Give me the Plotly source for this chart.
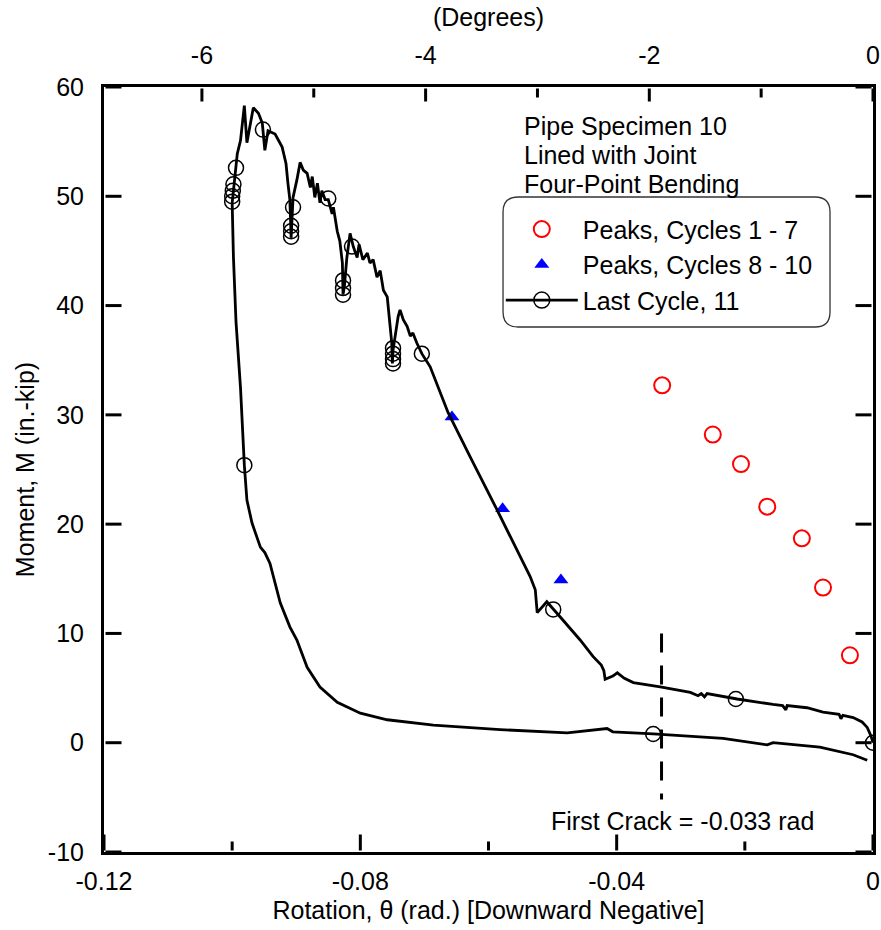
import math
import plotly.graph_objects as go

# ---- data -------------------------------------------------------------
# Last loading cycle (cycle 11): rotation in rad, moment in in.-kip
last_rot = [
    0.0000, -0.0003, -0.0009, -0.0017, -0.0031, -0.0047, -0.0050, -0.0053,
    -0.0078, -0.0103, -0.0134, -0.0136, -0.0141, -0.0156, -0.0212, -0.0259,
    -0.0263, -0.0268, -0.0273, -0.0285, -0.0332, -0.0374, -0.0388, -0.0399,
    -0.0406, -0.0418, -0.0420, -0.0424, -0.0437, -0.0457, -0.0485, -0.0499,
    -0.0509, -0.0524, -0.0527, -0.0535, -0.0559, -0.0590, -0.0629, -0.0663,
    -0.0691, -0.0704, -0.0712, -0.0718, -0.0722, -0.0727,
    -0.0733, -0.0738, -0.0741, -0.0746, -0.0749, -0.0750, -0.0751, -0.0754,
    -0.0758, -0.0764, -0.0769, -0.0774, -0.0780, -0.0785, -0.0789, -0.0796,
    -0.0802, -0.0805, -0.0811, -0.0816, -0.0821, -0.0825, -0.0827, -0.0828,
    -0.0832, -0.0836, -0.0842, -0.0844, -0.0850, -0.0855, -0.0860, -0.0863,
    -0.0867, -0.0871, -0.0875, -0.0878, -0.0883, -0.0889, -0.0894, -0.0899,
    -0.0905, -0.0908, -0.0910, -0.0913, -0.0916, -0.0922, -0.0933, -0.0944,
    -0.0949, -0.0953, -0.0959, -0.0967, -0.0973, -0.0977, -0.0981, -0.0983,
    -0.0987, -0.0992, -0.0995, -0.0998, -0.1000, -0.0998, -0.0994, -0.0987,
    -0.0983, -0.0981, -0.0977, -0.0969, -0.0956, -0.0949, -0.0941, -0.0925,
    -0.0910, -0.0899, -0.0883, -0.0863, -0.0836, -0.0800, -0.0758, -0.0686,
    -0.0582, -0.0477, -0.0415, -0.0406, -0.0343, -0.0234, -0.0165, -0.0156,
    -0.0083, -0.0031, -0.0009,
]
last_mom = [
    0.0, 0.6, 1.4, 1.9, 2.3, 2.5, 2.2, 2.6,
    2.8, 3.2, 3.4, 3.0, 3.4, 3.5, 4.0, 4.5,
    4.2, 4.5, 4.3, 4.6, 5.1, 5.5, 5.9, 6.4,
    6.1, 5.8, 6.6, 7.1, 7.9, 9.4, 11.3, 12.2,
    12.9, 11.9, 14.0, 15.2, 18.1, 21.7, 26.2, 30.2,
    34.4, 35.6, 36.6, 37.5, 37.2, 38.1,
    38.7, 39.6, 39.0, 37.2, 35.9, 34.7, 36.6, 38.4,
    40.8, 41.4, 43.2, 42.6, 44.2, 43.9, 44.8, 44.2,
    45.6, 44.4, 45.4, 46.6, 44.4, 41.7, 41.0, 43.9,
    45.9, 46.8, 49.0, 48.4, 49.7, 49.7, 50.5, 49.4,
    51.2, 49.9, 51.8, 50.8, 52.1, 52.4, 53.1, 51.5,
    49.9, 46.2, 49.7, 51.2, 53.0, 54.5, 55.7, 56.0,
    54.2, 56.7, 57.6, 58.1, 56.3, 54.9, 58.3, 57.0,
    55.1, 53.9, 52.4, 50.5, 49.4, 44.4, 38.5, 32.5,
    27.6, 25.4, 22.2, 20.1, 17.9, 17.4, 16.4, 12.8,
    10.6, 9.4, 6.9, 5.1, 3.7, 2.7, 2.1, 1.6,
    1.2, 0.9, 1.3, 1.0, 0.8, 0.4, -0.2, 0.0,
    -0.4, -1.1, -1.6,
]

# Recorded readings marked along the last cycle
last_mark_rot = [
    0.0000, -0.0214, -0.0343, -0.0499, -0.0704,
    -0.0749, -0.0749, -0.0749, -0.0749,
    -0.0813, -0.0827, -0.0827, -0.0827, -0.0850,
    -0.0905, -0.0908, -0.0908, -0.0908, -0.0952,
    -0.0994, -0.0998, -0.0999, -0.1000, -0.1000, -0.0981,
]
last_mark_mom = [
    0.0, 4.0, 0.8, 12.2, 35.6,
    36.1, 35.6, 35.1, 34.7,
    45.4, 42.3, 41.6, 41.0, 49.8,
    49.0, 47.3, 46.8, 46.3, 56.1,
    52.6, 51.1, 50.5, 50.0, 49.5, 25.4,
]

# Peak moments of cycles 1-7
peak17_rot = [-0.0329, -0.0250, -0.0206, -0.0165, -0.0111, -0.0078, -0.0036]
peak17_mom = [32.7, 28.2, 25.5, 21.6, 18.7, 14.2, 8.0]

# Peak moments of cycles 8-10
peak810_rot = [-0.0657, -0.0578, -0.0487]
peak810_mom = [29.8, 21.4, 14.9]

# First crack marker
first_crack_rot = -0.033
first_crack_mom = [10.0, -5.2]

# Axis ticks
x_tick_vals = [-0.12, -0.08, -0.04, 0.0]
x_tick_text = ["-0.12", "-0.08", "-0.04", "0"]
x_minor_vals = [-0.10, -0.06, -0.02]
y_tick_vals = [-10, 0, 10, 20, 30, 40, 50, 60]
y_tick_text = ["-10", "0", "10", "20", "30", "40", "50", "60"]
deg_tick_vals = [-6, -4, -2, 0]
deg_tick_text = ["-6", "-4", "-2", "0"]
deg_minor_vals = [-5, -3, -1]

X_RANGE = [-0.12, 0.0]
Y_RANGE = [-10, 60]
DEG_RANGE = [X_RANGE[0] * 180 / math.pi, X_RANGE[1] * 180 / math.pi]

FONT = "Liberation Sans, Arial, sans-serif"

# page geometry (px) used to size the inward tick marks
W, H = 881, 930
M_L, M_R, M_T, M_B = 104, 8, 87, 78
PLOT_W, PLOT_H = W - M_L - M_R, H - M_T - M_B
MAJOR_LEN, MINOR_LEN, TOP_LEN, TICK_W = 16, 9, 13, 3
PAD = 1.5  # half the axis line width; ticks start at the inner edge

x_unit = (X_RANGE[1] - X_RANGE[0]) / PLOT_W      # rad per px
d_unit = (DEG_RANGE[1] - DEG_RANGE[0]) / PLOT_W  # deg per px
y_unit = (Y_RANGE[1] - Y_RANGE[0]) / PLOT_H      # in.-kip per px

# ---- figure -----------------------------------------------------------
fig = go.Figure()

fig.add_trace(go.Scatter(
    x=peak17_rot, y=peak17_mom, mode="markers", name="Peaks, Cycles 1 - 7",
    marker=dict(symbol="circle-open", size=16, color="#ff0000",
                line=dict(width=2, color="#ff0000")),
))
fig.add_trace(go.Scatter(
    x=peak810_rot, y=peak810_mom, mode="markers", name="Peaks, Cycles 8 - 10",
    marker=dict(symbol="triangle-up", size=13, color="#0000ff"),
))
fig.add_trace(go.Scatter(
    x=last_rot, y=last_mom, mode="lines", showlegend=False,
    line=dict(color="black", width=2.8),
))
fig.add_trace(go.Scatter(
    x=last_mark_rot, y=last_mark_mom, mode="markers", showlegend=False,
    marker=dict(symbol="circle-open", size=15, color="black",
                line=dict(width=1.5, color="black")),
))
# legend entry for the last cycle (line with open circle); it sits on the
# degree axis so that the top axis is drawn
fig.add_trace(go.Scatter(
    x=[None], y=[None], mode="lines+markers", name="Last Cycle, 11",
    xaxis="x2", yaxis="y",
    line=dict(color="black", width=2.8),
    marker=dict(symbol="circle-open", size=16, color="black",
                line=dict(width=1.5, color="black")),
))
# first crack line
fig.add_trace(go.Scatter(
    x=[first_crack_rot, first_crack_rot], y=first_crack_mom, mode="lines",
    showlegend=False, line=dict(color="black", width=3, dash="19px,13px"),
))

# inward tick marks built from the tick value lists
tx, ty = [], []
for v in x_tick_vals + x_minor_vals:
    ln = MAJOR_LEN if v in x_tick_vals else MINOR_LEN
    tx += [v, v, None]
    ty += [Y_RANGE[0] + PAD * y_unit, Y_RANGE[0] + (PAD + ln) * y_unit, None]
for v in y_tick_vals:
    tx += [X_RANGE[0] + PAD * x_unit, X_RANGE[0] + (PAD + MAJOR_LEN) * x_unit,
           None,
           X_RANGE[1] - PAD * x_unit, X_RANGE[1] - (PAD + MAJOR_LEN) * x_unit,
           None]
    ty += [v, v, None, v, v, None]
fig.add_trace(go.Scatter(
    x=tx, y=ty, mode="lines", showlegend=False, hoverinfo="skip",
    cliponaxis=False, line=dict(color="black", width=TICK_W),
))
dx, dy = [], []
for v in deg_tick_vals + deg_minor_vals:
    ln = TOP_LEN if v in deg_tick_vals else MINOR_LEN
    dx += [v, v, None]
    dy += [Y_RANGE[1] - PAD * y_unit, Y_RANGE[1] - (PAD + ln) * y_unit, None]
fig.add_trace(go.Scatter(
    x=dx, y=dy, xaxis="x2", yaxis="y", mode="lines", showlegend=False,
    hoverinfo="skip", cliponaxis=False,
    line=dict(color="black", width=TICK_W),
))

axis_common = dict(
    showgrid=False, zeroline=False, showline=True, linecolor="black",
    linewidth=3, ticks="",
    tickfont=dict(family=FONT, size=25, color="black"),
)

fig.update_layout(
    width=W, height=H,
    margin=dict(l=M_L, r=M_R, t=M_T, b=M_B, autoexpand=False),
    paper_bgcolor="white", plot_bgcolor="white",
    font=dict(family=FONT, size=25, color="black"),
    xaxis=dict(
        range=X_RANGE, tickmode="array", tickvals=x_tick_vals,
        ticktext=x_tick_text, ticklabelstandoff=5,
        title=dict(text="Rotation, \u03b8 (rad.) [Downward Negative]",
                   font=dict(family=FONT, size=25), standoff=8),
        **axis_common,
    ),
    xaxis2=dict(
        overlaying="x", side="top", anchor="y", range=DEG_RANGE,
        tickmode="array", tickvals=deg_tick_vals, ticktext=deg_tick_text,
        ticklabelstandoff=10,
        title=dict(text="(Degrees)", font=dict(family=FONT, size=25),
                   standoff=8),
        **axis_common,
    ),
    yaxis=dict(
        range=Y_RANGE, tickmode="array", tickvals=y_tick_vals,
        ticktext=y_tick_text, ticklabelstandoff=12, mirror=True,
        title=dict(text="Moment, M (in.-kip)", font=dict(family=FONT, size=25),
                   standoff=7),
        **axis_common,
    ),
    legend=dict(
        x=0.516, y=0.844, xanchor="left", yanchor="top",
        bgcolor="rgba(0,0,0,0)", borderwidth=0, itemwidth=72,
        font=dict(family=FONT, size=25, color="black"),
        traceorder="normal",
    ),
)

# rounded frame behind the legend (paper coordinates)
bx0, bx1, by0, by1 = 0.5189, 0.9441, 0.6863, 0.8562
rx, ry = 0.0195, 0.0196
frame = (
    f"M {bx0 + rx},{by1} L {bx1 - rx},{by1} Q {bx1},{by1} {bx1},{by1 - ry} "
    f"L {bx1},{by0 + ry} Q {bx1},{by0} {bx1 - rx},{by0} "
    f"L {bx0 + rx},{by0} Q {bx0},{by0} {bx0},{by0 + ry} "
    f"L {bx0},{by1 - ry} Q {bx0},{by1} {bx0 + rx},{by1} Z"
)
fig.add_shape(type="path", path=frame, xref="paper", yref="paper",
              line=dict(color="#333333", width=1.3), layer="below")

# specimen description
for txt, yy in [("Pipe Specimen 10", 0.949), ("Lined with Joint", 0.911),
                ("Four-Point Bending", 0.873)]:
    fig.add_annotation(text=txt, xref="paper", yref="paper", x=0.5436, y=yy,
                       xanchor="left", yanchor="middle", showarrow=False,
                       font=dict(family=FONT, size=25, color="black"))

fig.add_annotation(text="First Crack = -0.033 rad", x=-0.0298, y=-7.2,
                   xref="x", yref="y", showarrow=False,
                   font=dict(family=FONT, size=25, color="black"))

fig.write_html("out.html")
